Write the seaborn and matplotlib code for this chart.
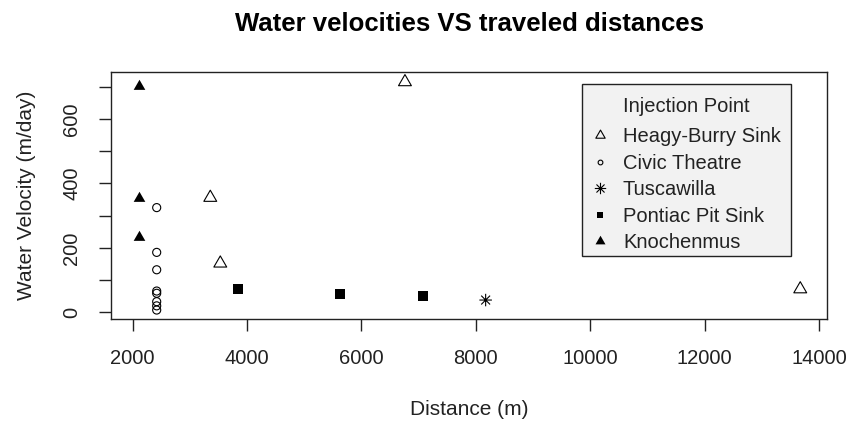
import numpy as np
import pandas as pd
import matplotlib
matplotlib.use("Agg")
import matplotlib.pyplot as plt
from matplotlib.path import Path
from matplotlib.lines import Line2D
from matplotlib.patches import Rectangle
import seaborn as sns

# ---------------- data ----------------
heagy_x = [3357, 3532, 6761, 13673]
heagy_y = [356, 152, 715, 72]
civic_x = [2420, 2420, 2420, 2420, 2420, 2420, 2420, 2420]
civic_y = [325, 186, 132, 66, 59, 33, 20, 7]
tusc_x = [8172]
tusc_y = [38]
pontiac_x = [3846, 5626, 7071]
pontiac_y = [73, 57, 50]
knoch_x = [2105, 2105, 2105]
knoch_y = [703, 354, 235]

series_names = ["Heagy-Burry Sink", "Civic Theatre", "Tuscawilla",
                "Pontiac Pit Sink", "Knochenmus"]
x_ticks = [2000, 4000, 6000, 8000, 10000, 12000, 14000]
x_tick_labels = ["2000", "4000", "6000", "8000", "10000", "12000", "14000"]
y_ticks = [0, 100, 200, 300, 400, 500, 600, 700]
y_tick_labels = ["0", "", "200", "", "400", "", "600", ""]

# ---------------- style ----------------
sns.set_style("ticks")
plt.rcParams["font.family"] = ["Liberation Sans", "DejaVu Sans"]

W, H = 848, 421
tri = Path([(0, 1), (-0.866, -0.5), (0.866, -0.5), (0, 1)],
           [Path.MOVETO, Path.LINETO, Path.LINETO, Path.CLOSEPOLY])
d = 0.7071
star = Path([(-1, 0), (1, 0), (0, -1), (0, 1),
             (-d, -d), (d, d), (-d, d), (d, -d)],
            [Path.MOVETO, Path.LINETO] * 4)

fig = plt.figure(figsize=(W / 100, H / 100), dpi=100)
ax = fig.add_axes([111 / W, 1 - 318.7 / H, (827.3 - 111) / W, (318.7 - 72) / H])

frames = {
    "Heagy-Burry Sink": pd.DataFrame({"x": heagy_x, "y": heagy_y}),
    "Civic Theatre": pd.DataFrame({"x": civic_x, "y": civic_y}),
    "Tuscawilla": pd.DataFrame({"x": tusc_x, "y": tusc_y}),
    "Pontiac Pit Sink": pd.DataFrame({"x": pontiac_x, "y": pontiac_y}),
    "Knochenmus": pd.DataFrame({"x": knoch_x, "y": knoch_y}),
}

sns.scatterplot(data=frames["Heagy-Burry Sink"], x="x", y="y", ax=ax,
                marker=tri, s=10.7 ** 2, facecolors="none", edgecolor="black",
                linewidth=0.8, legend=False)
sns.scatterplot(data=frames["Civic Theatre"], x="x", y="y", ax=ax,
                marker="o", s=5.8 ** 2, facecolors="none", edgecolor="black",
                linewidth=0.8, legend=False)
sns.scatterplot(data=frames["Tuscawilla"], x="x", y="y", ax=ax,
                marker=star, s=9.0 ** 2, facecolors="none", edgecolor="black",
                linewidth=0.8, legend=False)
sns.scatterplot(data=frames["Pontiac Pit Sink"], x="x", y="y", ax=ax,
                marker="s", s=7.2 ** 2, color="black", linewidth=0,
                legend=False)
sns.scatterplot(data=frames["Knochenmus"], x="x", y="y", ax=ax,
                marker=tri, s=9.7 ** 2, color="black", linewidth=0,
                legend=False)

ax.set_xlim(1621, 14146)
ax.set_ylim(-19.9, 746)
ax.set_xticks(x_ticks)
ax.set_xticklabels(x_tick_labels)
ax.set_yticks(y_ticks)
ax.set_yticklabels(y_tick_labels, rotation=90, va="center")

for sp in ax.spines.values():
    sp.set_visible(True)
    sp.set_color("#222222")
    sp.set_linewidth(1.0)
ax.tick_params(axis="both", direction="out", length=8.5, width=1.0,
               color="#222222", labelsize=14.5, labelcolor="#222222")
ax.tick_params(axis="x", pad=13)
ax.tick_params(axis="y", pad=13)

ax.set_xlabel("Distance (m)", fontsize=15, color="#222222")
ax.xaxis.set_label_coords(0.5, -0.33)
ax.xaxis.label.set_va("top")
ax.set_ylabel("Water Velocity (m/day)", fontsize=15, color="#222222")
ax.yaxis.set_label_coords(-0.105, 0.5)

ax.set_title("Water velocities VS traveled distances", fontsize=18.5,
             fontweight="bold", pad=29.5, color="black")

# ---------------- legend ----------------
box = Rectangle((582.3 / W, 1 - 256 / H), (790.7 - 582.3) / W, (256 - 84) / H,
                transform=fig.transFigure, facecolor="#F2F2F2",
                edgecolor="#222222", linewidth=1.0, zorder=5)
fig.patches.append(box)
fig.text(686.5 / W, 1 - 106.7 / H, "Injection Point", ha="center", va="center",
         fontsize=14.5, color="#222222", zorder=6)

handles = [
    Line2D([], [], linestyle="none", marker=tri, markersize=7.8,
           markerfacecolor="none", markeredgecolor="black", markeredgewidth=0.8),
    Line2D([], [], linestyle="none", marker="o", markersize=3.4,
           markerfacecolor="none", markeredgecolor="black", markeredgewidth=0.8),
    Line2D([], [], linestyle="none", marker=star, markersize=8.2,
           markerfacecolor="none", markeredgecolor="black", markeredgewidth=0.8),
    Line2D([], [], linestyle="none", marker="s", markersize=4.8,
           markerfacecolor="black", markeredgewidth=0),
    Line2D([], [], linestyle="none", marker=tri, markersize=8.3,
           markerfacecolor="black", markeredgewidth=0),
]
leg = fig.legend(handles, series_names, loc="center left",
                 bbox_to_anchor=(590.3 / W, 1 - 189.85 / H),
                 bbox_transform=fig.transFigure,
                 fontsize=14.5, frameon=False,
                 borderpad=0, labelspacing=0.37, handlelength=1.0,
                 handletextpad=0.62, borderaxespad=0)
leg.set_zorder(7)
for t in leg.get_texts():
    t.set_color("#222222")

fig.savefig("out.png", dpi=100, facecolor="white")
